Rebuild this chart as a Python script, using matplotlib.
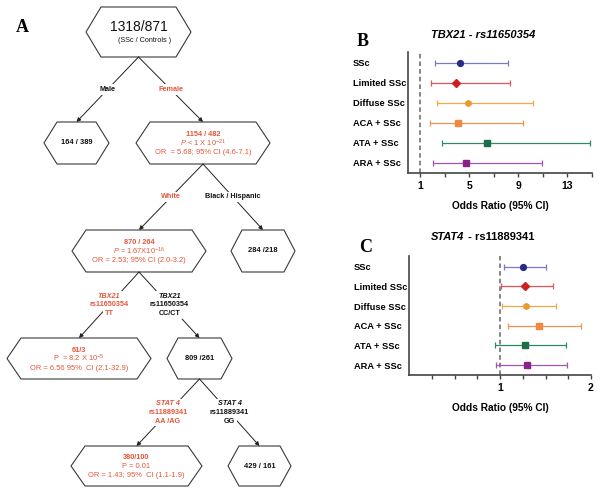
import matplotlib.pyplot as plt
from matplotlib.patches import Polygon

plt.rcParams['font.family'] = ['Liberation Sans', 'DejaVu Sans']
plt.rcParams['mathtext.fontset'] = 'custom'
plt.rcParams['mathtext.rm'] = 'Liberation Sans'
plt.rcParams['mathtext.it'] = 'Liberation Sans:italic'
plt.rcParams['mathtext.bf'] = 'Liberation Sans:bold'

RED = '#e5563a'
BLACK = '#111111'

# ---- panel A: tree data ----
node_names = ['root', 'male', 'female', 'white', 'bh', 'tt', 'cc', 'aa', 'gg']
node_text = {
    'root': ['1318/871', '(SSc / Controls )'],
    'male': ['164 / 389'],
    'female': ['1154 / 482', r'$\it{P}$ < 1 X 10$^{-21}$', 'OR  = 5.68; 95% CI (4.6-7.1)'],
    'white': ['870 / 264', r'$\it{P}$ = 1.67X10$^{-16}$', 'OR = 2.53; 95% CI (2.0-3.2)'],
    'bh': ['284 /218'],
    'tt': ['61/3', r'P  = 8.2 X 10$^{-5}$', 'OR = 6.56 95%  CI (2.1-32.9)'],
    'cc': ['809 /261'],
    'aa': ['380/100', 'P = 0.01', 'OR = 1.43; 95%  CI (1.1-1.9)'],
    'gg': ['429 / 161'],
}
node_red = ['female', 'white', 'tt', 'aa']

edge_pairs = [('root', 'male'), ('root', 'female'), ('female', 'white'), ('female', 'bh'),
              ('white', 'tt'), ('white', 'cc'), ('cc', 'aa'), ('cc', 'gg')]
edge_labels = [['Male'], ['Female'], ['White'], ['Black / Hispanic'],
               ['TBX21', 'rs11650354', 'TT'], ['TBX21', 'rs11650354', 'CC/CT'],
               ['STAT 4', 'rs11889341', 'AA /AG'], ['STAT 4', 'rs11889341', 'GG']]
edge_red = [False, True, True, False, True, False, True, False]

# layout of hexagons in pixels: centre x, top, bottom, half width, inset
layout = {
    'root': (138.5, 7, 57, 52.5, 15),
    'male': (76.5, 122, 164, 32.5, 13),
    'female': (203, 122, 164, 67, 14),
    'white': (139, 230, 272, 67, 14),
    'bh': (263, 230, 272, 32, 11),
    'tt': (79, 338, 379, 72, 14),
    'cc': (199.5, 338, 379, 32.5, 11),
    'aa': (136.5, 446, 486, 65.5, 14),
    'gg': (259.5, 446, 486, 31.5, 11),
}

# ---- panels B and C: forest plot data ----
groups = ['SSc', 'Limited SSc', 'Diffuse SSc', 'ACA + SSc', 'ATA + SSc', 'ARA + SSc']
tbx_or = [4.2, 3.94, 4.9, 4.08, 6.4, 4.7]
tbx_lo = [2.17, 1.87, 2.33, 1.79, 2.74, 2.06]
tbx_hi = [8.16, 8.3, 10.2, 9.4, 14.8, 10.9]
stat_or = [1.257, 1.276, 1.29, 1.43, 1.276, 1.30]
stat_lo = [1.04, 1.011, 1.026, 1.088, 0.948, 0.96]
stat_hi = [1.51, 1.58, 1.62, 1.89, 1.72, 1.74]

line_colors = ['#7a7acb', '#e05555', '#f0aa45', '#f09250', '#2f8a64', '#a455b4']
mark_colors = ['#2a2a8c', '#cc2020', '#e89a30', '#f08840', '#1d6e48', '#882288']
markers = ['o', 'D', 'h', 's', 's', 's']

fig = plt.figure(figsize=(6, 4.92), dpi=100)

# tree axes in pixel coordinates
axt = fig.add_axes([0, 0, 1, 1])
axt.set_xlim(0, 600)
axt.set_ylim(492, 0)
axt.axis('off')

for name in node_names:
    cx, top, bot, hw, ins = layout[name]
    cy = (top + bot) / 2
    pts = [(cx - hw, cy), (cx - hw + ins, top), (cx + hw - ins, top),
           (cx + hw, cy), (cx + hw - ins, bot), (cx - hw + ins, bot)]
    axt.add_patch(Polygon(pts, closed=True, fill=False, edgecolor='#3a3a3a', lw=0.8))
    lines = node_text[name]
    if name == 'root':
        axt.text(cx, cy - 5, lines[0], ha='center', va='center', fontsize=10, color=BLACK)
        axt.text(cx + 6, cy + 9, lines[1], ha='center', va='center', fontsize=5.2, color=BLACK)
    elif len(lines) == 1:
        axt.text(cx, cy, lines[0], ha='center', va='center', fontsize=5.4,
                 fontweight='bold', color=BLACK)
    else:
        col = RED if name in node_red else BLACK
        offs = [-8.5, 0, 9.5]
        for k, s in enumerate(lines):
            axt.text(cx, cy + offs[k], s, ha='center', va='center', fontsize=5.4 if k else 5.3,
                     fontweight='bold' if k == 0 else 'normal', color=col)

for (p, c), labs, isred in zip(edge_pairs, edge_labels, edge_red):
    px, _, pbot, _, _ = layout[p]
    cx, ctop, _, _, _ = layout[c]
    axt.annotate('', xy=(cx, ctop), xytext=(px, pbot),
                 arrowprops=dict(arrowstyle='-|>', color='#222222', lw=0.7,
                                 mutation_scale=6, shrinkA=0, shrinkB=0))
    mx, my = (px + cx) / 2, (pbot + ctop) / 2
    col = RED if isred else BLACK
    n = len(labs)
    for k, s in enumerate(labs):
        yy = my + (k - (n - 1) / 2) * 8.7
        axt.text(mx, yy, s, ha='center', va='center', fontsize=5.2, fontweight='bold',
                 fontstyle='italic' if (n > 1 and k == 0) else 'normal', color=col,
                 bbox=dict(facecolor='white', edgecolor='none', pad=1.2))

fig.text(22 / 600, 1 - 27 / 492, 'A', fontsize=13, fontweight='bold',
         family='Liberation Serif', ha='center', va='center')


def forest(ax, pt, lo, hi, xmax, majors, minors):
    for i in range(len(groups)):
        ax.errorbar(pt[i], i, xerr=[[pt[i] - lo[i]], [hi[i] - pt[i]]], fmt=markers[i],
                    color=line_colors[i], mfc=mark_colors[i], mec=mark_colors[i],
                    ms=4.2 if markers[i] != 's' else 4.0, capsize=2.5, elinewidth=0.9,
                    capthick=0.9)
    ax.axvline(1, color='#666666', ls=(0, (3, 2)), lw=1.1, zorder=0)
    ax.set_xlim(0, xmax)
    ax.set_ylim(5.5, -0.55)
    ax.set_xticks(majors)
    ax.set_xticks(minors, minor=True)
    ax.set_xticklabels([str(m) for m in majors], fontweight='bold', fontsize=7.5)
    ax.set_yticks(range(len(groups)))
    ax.set_yticklabels(groups, fontweight='bold', fontsize=6.7)
    for lbl in ax.get_yticklabels():
        lbl.set_horizontalalignment('left')
    ax.tick_params(axis='y', length=0, pad=39.5)
    ax.tick_params(axis='x', which='both', direction='out', length=3, width=1,
                   color='#444444', pad=2.5)
    for s in ['top', 'right']:
        ax.spines[s].set_visible(False)
    for s in ['left', 'bottom']:
        ax.spines[s].set_color('#444444')
        ax.spines[s].set_linewidth(1.2)
    ax.set_xlabel('Odds Ratio (95% CI)', fontweight='bold', fontsize=7.3, labelpad=7.5)


axb = fig.add_axes([408 / 600, 1 - 173 / 492, 184 / 600, 121 / 492])
forest(axb, tbx_or, tbx_lo, tbx_hi, 15, [1, 5, 9, 13], [3, 7, 11, 15])
fig.text(483 / 600, 1 - 35 / 492, 'TBX21 - rs11650354', fontsize=8, fontweight='bold',
         fontstyle='italic', ha='center', va='center')
fig.text(363 / 600, 1 - 41 / 492, 'B', fontsize=13, fontweight='bold',
         family='Liberation Serif', ha='center', va='center')

axc = fig.add_axes([409 / 600, 1 - 375 / 492, 182 / 600, 119 / 492])
forest(axc, stat_or, stat_lo, stat_hi, 2, [1, 2], [0.25, 0.5, 0.75, 1.25, 1.5, 1.75])
fig.text(464 / 600, 1 - 237 / 492, 'STAT4', fontsize=8, fontweight='bold',
         fontstyle='italic', ha='right', va='center')
fig.text(465 / 600, 1 - 237 / 492, ' - rs11889341', fontsize=8, fontweight='bold',
         ha='left', va='center')
fig.text(366 / 600, 1 - 247 / 492, 'C', fontsize=13, fontweight='bold',
         family='Liberation Serif', ha='center', va='center')

fig.savefig('out.png', dpi=100, facecolor='white')
